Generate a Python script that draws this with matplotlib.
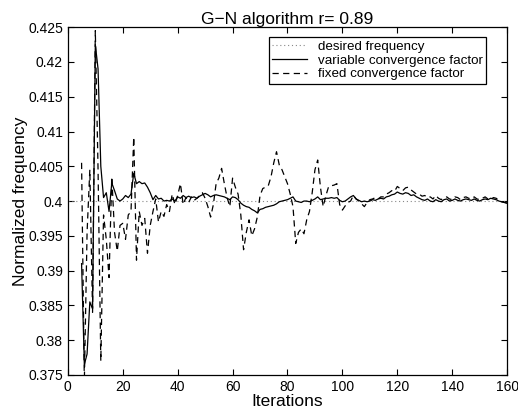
import matplotlib
matplotlib.use("Agg")
import matplotlib.pyplot as plt
import matplotlib.ticker as mticker
import numpy as np

plt.rcParams['font.family'] = ['Liberation Sans', 'DejaVu Sans']

# iterations shared by both curves
iterations = list(range(5, 161))

# variable convergence factor (solid)
variable_cf = [
    0.391, 0.3765, 0.378, 0.3855, 0.3845, 0.4225, 0.419, 0.405, 0.4005, 0.4012,
    0.3985, 0.4026, 0.4015, 0.4003, 0.4, 0.4003, 0.4008, 0.4005, 0.401, 0.404,
    0.4025, 0.4028, 0.4025, 0.4026, 0.402, 0.4012, 0.4002, 0.4008, 0.4003, 0.4004,
    0.4, 0.4001, 0.4, 0.4003, 0.4, 0.4006, 0.4004, 0.4008, 0.4005, 0.4007,
    0.4005, 0.4006, 0.4004, 0.4007, 0.4009, 0.4011, 0.4009, 0.4006, 0.4008, 0.4009,
    0.4008, 0.4007, 0.4006, 0.4004, 0.4002, 0.4006, 0.4005, 0.4002, 0.3997, 0.3994,
    0.3992, 0.3991, 0.3988, 0.3986, 0.3983, 0.3988, 0.3989, 0.3991, 0.3992, 0.3993,
    0.3994, 0.3996, 0.3999, 0.4, 0.4001, 0.4002, 0.4004, 0.4006, 0.4, 0.3999,
    0.3998, 0.4, 0.4, 0.3999, 0.4001, 0.4003, 0.4006, 0.4002, 0.4003, 0.4004,
    0.4004, 0.4005, 0.4004, 0.4005, 0.4001, 0.3999, 0.4, 0.4003, 0.4006, 0.4008,
    0.4003, 0.4001, 0.3999, 0.4, 0.3999, 0.4, 0.4002, 0.4001, 0.4003, 0.4004,
    0.4003, 0.4006, 0.4007, 0.4009, 0.401, 0.4013, 0.4011, 0.401, 0.4012, 0.4011,
    0.4008, 0.4009, 0.4006, 0.4004, 0.4002, 0.4001, 0.4003, 0.4, 0.3999, 0.4002,
    0.4, 0.3999, 0.4002, 0.4003, 0.4, 0.4001, 0.4003, 0.4001, 0.4, 0.4002,
    0.4003, 0.4002, 0.4001, 0.4003, 0.4001, 0.4, 0.4002, 0.4003, 0.4002, 0.4004,
    0.4003, 0.4002, 0.4, 0.3999, 0.3998, 0.3997,
]

# fixed convergence factor (dashed)
fixed_cf = [
    0.4055, 0.374, 0.3955, 0.4045, 0.384, 0.4245, 0.4045, 0.377, 0.398, 0.3945,
    0.389, 0.4035, 0.3955, 0.3928, 0.3965, 0.3968, 0.3945, 0.398, 0.3985, 0.4092,
    0.3915, 0.3985, 0.3965, 0.3975, 0.3925, 0.3965, 0.3985, 0.4003, 0.397, 0.3985,
    0.3978, 0.3995, 0.3985, 0.401, 0.3995, 0.4008, 0.4025, 0.3995, 0.4005, 0.3998,
    0.4006, 0.4001, 0.4004, 0.4008, 0.4012, 0.4004, 0.3992, 0.3977, 0.3995, 0.4025,
    0.4033, 0.4047, 0.4025, 0.4005, 0.3992, 0.4033, 0.402, 0.401, 0.398, 0.393,
    0.3955, 0.3973, 0.395, 0.396, 0.3977, 0.4008, 0.4018, 0.402, 0.4022, 0.4035,
    0.4055, 0.4071, 0.4052, 0.4045, 0.4035, 0.4025, 0.401, 0.3992, 0.3939, 0.3955,
    0.396, 0.3953, 0.3973, 0.3985, 0.4012, 0.4045, 0.4059, 0.402, 0.3992, 0.4008,
    0.4021, 0.4022, 0.4023, 0.4025, 0.3995, 0.3987, 0.3993, 0.3998, 0.4, 0.4008,
    0.4003, 0.4, 0.3996, 0.3992, 0.3998, 0.4002, 0.4003, 0.4005, 0.4003, 0.4006,
    0.4006, 0.401, 0.4012, 0.4015, 0.4014, 0.4021, 0.4018, 0.4015, 0.4019, 0.402,
    0.4016, 0.4013, 0.401, 0.401, 0.4007, 0.4008, 0.4005, 0.4006, 0.4003, 0.4008,
    0.4004, 0.4002, 0.4005, 0.4006, 0.4003, 0.4002, 0.4006, 0.4005, 0.4002, 0.4005,
    0.4006, 0.4004, 0.4003, 0.4006, 0.4003, 0.4002, 0.4004, 0.4006, 0.4003, 0.4002,
    0.4005, 0.4004, 0.4001, 0.3999, 0.3998, 0.3997,
]

desired_freq = 0.4
x_range = [0, 160]
y_ticks = [0.375, 0.38, 0.385, 0.39, 0.395, 0.4, 0.405, 0.41, 0.415, 0.42, 0.425]
x_ticks = [0, 20, 40, 60, 80, 100, 120, 140, 160]

fig = plt.figure(figsize=(5.18, 4.12), dpi=100)
ax = fig.add_axes([0.131, 0.09, 0.848, 0.844])

ax.plot(x_range, [desired_freq, desired_freq], linestyle=(0, (1, 2.5)), color='#888888', lw=0.8,
        label='desired frequency')
ax.plot(iterations, variable_cf, '-', color='black', lw=0.9, label='variable convergence factor')
ax.plot(iterations, fixed_cf, '--', color='black', lw=0.9, dashes=(5, 3.5), label='fixed convergence factor')

ax.set_xlim(0, 160)
ax.set_ylim(0.375, 0.425)
ax.set_xticks(x_ticks)
ax.set_yticks(y_ticks)
ax.yaxis.set_major_formatter(mticker.FuncFormatter(lambda v, p: '%g' % round(v, 4)))
ax.tick_params(direction='in', top=True, right=True, labelsize=10, length=4, width=0.8)
for s in ax.spines.values():
    s.set_linewidth(0.9)

ax.set_title('G\u2212N algorithm r= 0.89', fontsize=12.5, pad=2)
ax.set_xlabel('Iterations', fontsize=12.5, labelpad=0)
ax.set_ylabel('Normalized frequency', fontsize=12.5, labelpad=0)

leg = ax.legend(loc='upper right', bbox_to_anchor=(0.952, 0.971), fontsize=9.6, fancybox=False,
                framealpha=1, edgecolor='black', handlelength=2.6, borderpad=0.25,
                labelspacing=0.1, handletextpad=0.8, borderaxespad=0)
leg.get_frame().set_linewidth(0.9)

fig.savefig('out.png', dpi=100)
